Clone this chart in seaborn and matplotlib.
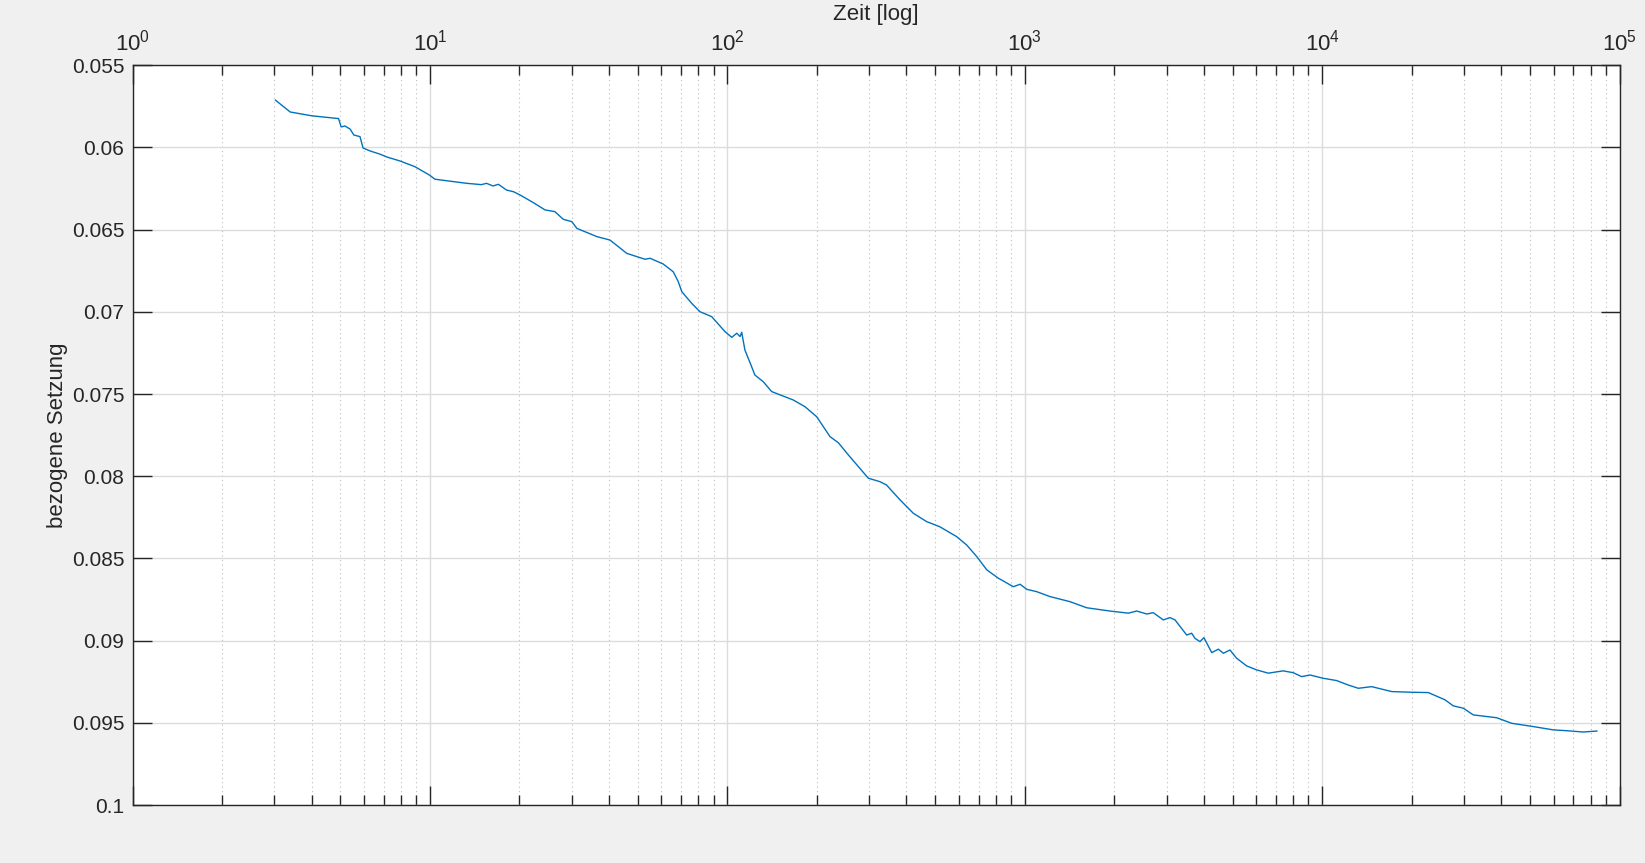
import numpy as np
import pandas as pd
import matplotlib
matplotlib.use("Agg")
import matplotlib.pyplot as plt
import matplotlib.ticker as mticker
import seaborn as sns

# ---- data ----
zeit = [3.02, 3.39, 4.0, 4.8, 4.93, 5.03, 5.18, 5.39, 5.55, 5.82, 5.96, 6.29, 6.78, 7.17,
        7.93, 8.91, 9.95, 10.4, 13.3, 14.9, 15.5, 16.3, 17.0, 18.1, 19.1, 20.1, 22.3, 24.4,
        26.3, 28.1, 30.0, 31.2, 36.4, 40.3, 43.0, 45.9, 52.9, 55.0, 60.9, 65.8, 68.4, 70.3,
        75.9, 80.9, 88.6, 98.2, 103.5, 107.6, 110.4, 111.8, 114.6, 120.7, 123.8, 132.1, 141,
        166.6, 182.5, 199.8, 221.5, 236.2, 255.2, 298, 326, 343, 381, 422, 468, 518, 590, 638,
        690, 746, 815, 916, 965, 1016, 1097, 1216, 1420, 1615, 1935, 2230, 2381, 2572, 2706,
        2924, 3080, 3202, 3505, 3642, 3737, 3884, 4006, 4255, 4480, 4656, 4900, 5158, 5577,
        6022, 6592, 7398, 7993, 8533, 9103, 10080, 11190, 12240, 13240, 14680, 17150, 20000,
        22750, 25890, 27620, 29830, 32240, 38620, 43410, 51330, 59880, 66400, 75500, 84100]
setzung = [0.05711, 0.05784, 0.05807, 0.05822, 0.05824, 0.05875, 0.05869, 0.05888, 0.05924,
           0.05934, 0.06003, 0.06021, 0.06040, 0.06058, 0.06082, 0.06117, 0.06167, 0.06193,
           0.06218, 0.06226, 0.06218, 0.06234, 0.06224, 0.06259, 0.06269, 0.06289, 0.06336,
           0.06380, 0.06390, 0.06437, 0.06451, 0.06492, 0.06542, 0.06563, 0.06603, 0.06644,
           0.06680, 0.06674, 0.06709, 0.06756, 0.06816, 0.06877, 0.06948, 0.06999, 0.07029,
           0.07120, 0.07155, 0.07130, 0.07150, 0.07124, 0.07232, 0.07333, 0.07384, 0.07425,
           0.07485, 0.07536, 0.07577, 0.07638, 0.07759, 0.07796, 0.07870, 0.08012, 0.08033,
           0.08053, 0.08144, 0.08225, 0.08276, 0.08307, 0.08367, 0.08418, 0.08489, 0.08570,
           0.08620, 0.08672, 0.08657, 0.08688, 0.08702, 0.08732, 0.08763, 0.08800, 0.08820,
           0.08833, 0.08820, 0.08838, 0.08830, 0.08874, 0.08860, 0.08874, 0.08966, 0.08955,
           0.08986, 0.09006, 0.08982, 0.09073, 0.09052, 0.09077, 0.09057, 0.09107, 0.09154,
           0.09178, 0.09198, 0.09184, 0.09195, 0.09219, 0.09209, 0.09229, 0.09243, 0.09270,
           0.09290, 0.09280, 0.09310, 0.09314, 0.09316, 0.09360, 0.09397, 0.09411, 0.09452,
           0.09469, 0.09503, 0.09523, 0.09543, 0.09548, 0.09556, 0.09550]
y_ticks = [0.055, 0.06, 0.065, 0.07, 0.075, 0.08, 0.085, 0.09, 0.095, 0.1]
y_tick_labels = ["0.055", "0.06", "0.065", "0.07", "0.075", "0.08", "0.085", "0.09", "0.095", "0.1"]
x_label = "Zeit [log]"
y_label = "bezogene Setzung"

df = pd.DataFrame({"zeit": zeit, "setzung": setzung})

sns.set_style("white")
plt.rcParams["font.family"] = ["Liberation Sans", "DejaVu Sans"]
plt.rcParams["mathtext.fontset"] = "custom"
plt.rcParams["mathtext.rm"] = "Liberation Sans"
plt.rcParams["mathtext.it"] = "Liberation Sans:italic"
plt.rcParams["mathtext.bf"] = "Liberation Sans:bold"

fig = plt.figure(figsize=(16.45, 8.63), dpi=100, facecolor="#f0f0f0")
ax = fig.add_axes([132.5 / 1645, 1 - 805 / 863, (1619.5 - 132.5) / 1645, (805 - 65.3) / 863])
ax.set_facecolor("white")

sns.lineplot(data=df, x="zeit", y="setzung", ax=ax, color="#0072BD", linewidth=1.0,
             estimator=None, sort=False)

ax.set_xscale("log")
ax.set_xlim(1, 1e5)
ax.set_ylim(0.1, 0.055)
ax.set_yticks(y_ticks)
ax.set_yticklabels(y_tick_labels)

ax.xaxis.set_major_locator(mticker.LogLocator(base=10, numticks=10))
ax.xaxis.set_minor_locator(mticker.LogLocator(base=10, subs=np.arange(2, 10), numticks=20))
ax.xaxis.set_major_formatter(mticker.LogFormatterMathtext())
ax.xaxis.set_minor_formatter(mticker.NullFormatter())
ax.xaxis.tick_top()
ax.xaxis.set_label_position("top")

ax.tick_params(axis="both", which="major", direction="in", length=14, width=1,
               color="#262626", labelsize=15, labelcolor="#262626",
               top=True, bottom=True, left=True, right=True)
ax.tick_params(axis="x", which="minor", direction="in", length=7, width=1,
               color="#262626", top=True, bottom=True)
ax.tick_params(axis="x", which="major", pad=7, labelsize=16)
ax.tick_params(axis="y", which="major", pad=6)

ax.grid(True, which="major", color="#dcdcdc", linewidth=1, linestyle="-")
ax.grid(True, which="minor", axis="x", color="#bdbdbd", linewidth=0.8, linestyle=(0, (1, 3)))
ax.set_axisbelow(True)

for s in ax.spines.values():
    s.set_visible(True)
    s.set_color("#262626")
    s.set_linewidth(1)

ax.set_xlabel(x_label, fontsize=16, color="#262626", labelpad=7)
ax.set_ylabel(y_label, fontsize=16, color="#262626", labelpad=3)

fig.savefig("out.png", dpi=100, facecolor=fig.get_facecolor())
